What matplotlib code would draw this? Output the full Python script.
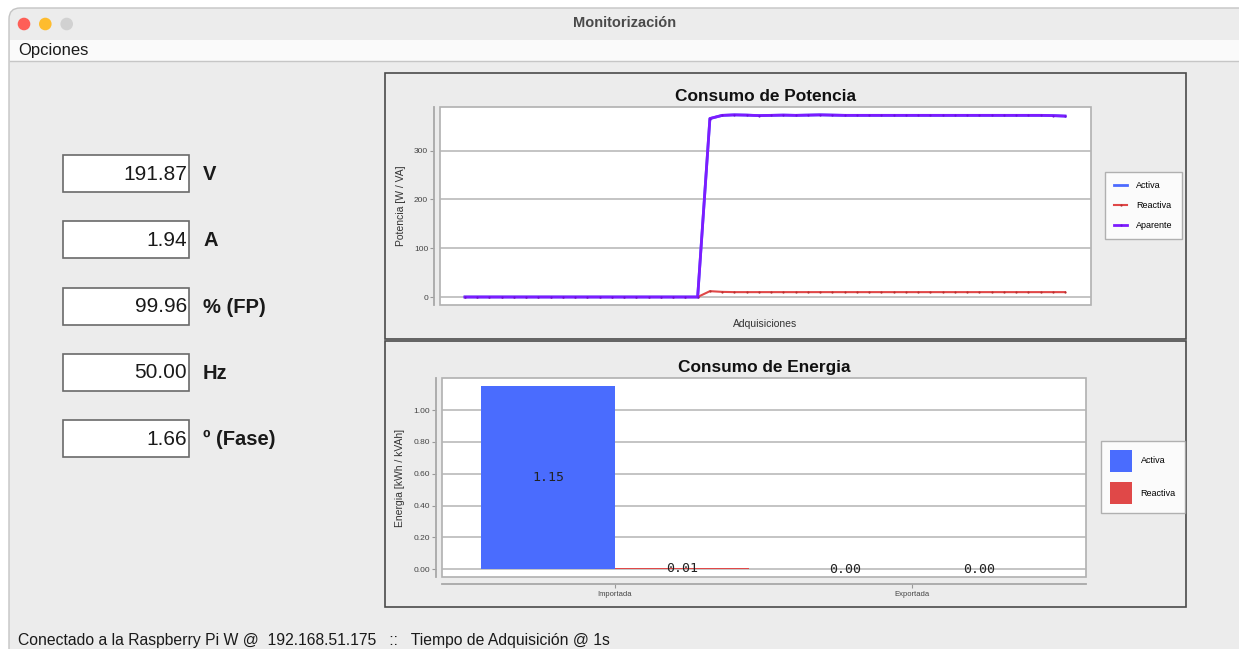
import matplotlib.pyplot as plt
from matplotlib.patches import Rectangle, FancyBboxPatch, Circle
import numpy as np

plt.rcParams['font.family'] = ['Liberation Sans', 'DejaVu Sans']

W, H = 1239, 649

# lecturas instantaneas (panel izquierdo)
valores = ['191.87', '1.94', '99.96', '50.00', '1.66']
unidades = ['V', 'A', '% (FP)', 'Hz', 'º (Fase)']

# potencia por adquisicion [W / VA]
activa = [0, 0, 0, 0, 0, 0, 0, 0, 0, 0, 0, 0, 0, 0, 0, 0, 0, 0, 0, 0,
          365.8, 372.3, 373.4, 372.9, 371.9, 372.4, 372.9, 372.4, 372.9, 373.4,
          372.9, 372.4, 372.4, 372.4, 372.4, 372.4, 372.4, 372.4, 372.4, 372.4,
          372.4, 372.4, 372.4, 372.4, 372.4, 372.4, 372.4, 372.4, 371.9, 370.9]
reactiva = [0, 0, 0, 0, 0, 0, 0, 0, 0, 0, 0, 0, 0, 0, 0, 0, 0, 0, 0, 0,
            12, 10.5, 10, 10, 10, 10, 10, 10, 10, 10,
            10, 10, 10, 10, 10, 10, 10, 10, 10, 10,
            10, 10, 10, 10, 10, 10, 10, 10, 10, 10]
aparente = [0, 0, 0, 0, 0, 0, 0, 0, 0, 0, 0, 0, 0, 0, 0, 0, 0, 0, 0, 0,
            366, 372.5, 373.5, 373, 372, 372.5, 373, 372.5, 373, 373.5,
            373, 372.5, 372.5, 372.5, 372.5, 372.5, 372.5, 372.5, 372.5, 372.5,
            372.5, 372.5, 372.5, 372.5, 372.5, 372.5, 372.5, 372.5, 372, 371]

# energia [kWh / kVAh]
categorias = ['Importada', 'Exportada']
energia_activa = [1.15, 0.00]
energia_reactiva = [0.01, 0.00]

AZUL = '#4a6cfe'
ROJO = '#e04848'
MORADO = '#7d1cff'


def rect(x0, y0, x1, y1):
    # caja en pixeles -> fraccion de figura
    return [x0 / W, 1 - y1 / H, (x1 - x0) / W, (y1 - y0) / H]


fig = plt.figure(figsize=(W / 100, H / 100), dpi=100, facecolor='white')

# fondo de la ventana
bg = fig.add_axes([0, 0, 1, 1])
bg.set_xlim(0, W)
bg.set_ylim(H, 0)
bg.axis('off')
bg.add_patch(FancyBboxPatch((9, 8), 1300, 700, boxstyle='round,pad=0,rounding_size=11',
                            fc='#ececec', ec='#c4c4c4', lw=1))
bg.add_patch(Rectangle((10, 40), 1300, 21, fc='#fafafa', ec='none'))
bg.plot([10, W], [61, 61], color='#c6c6c6', lw=1)
for cx, col in zip([24, 45.3, 66.7], ['#fe5f57', '#febc2e', '#d1d1d1']):
    bg.add_patch(Circle((cx, 24), 6.3, fc=col, ec='none'))
bg.text(625, 23, 'Monitorización', ha='center', va='center', fontsize=10.5,
        fontweight='bold', color='#4a4a4a')
bg.text(18, 51, 'Opciones', ha='left', va='center', fontsize=12, color='#1a1a1a')

# paneles de los graficos
bg.add_patch(Rectangle((385, 73), 801, 266, fill=False, ec='#4a4a4a', lw=1.2))
bg.add_patch(Rectangle((385, 341), 801, 266, fill=False, ec='#4a4a4a', lw=1.2))

# lecturas
for i, (val, uni) in enumerate(zip(valores, unidades)):
    y0 = 155 + i * 66.3
    bg.add_patch(Rectangle((63, y0), 126, 37, fc='white', ec='#6a6a6a', lw=1.2))
    bg.text(187, y0 + 19, val, ha='right', va='center', fontsize=15, color='#1a1a1a')
    bg.text(203, y0 + 19.5, uni, ha='left', va='center', fontsize=14.5,
            fontweight='bold', color='#1a1a1a')

bg.text(18, 640, 'Conectado a la Raspberry Pi W @  192.168.51.175   ::   Tiempo de Adquisición @ 1s',
        ha='left', va='center', fontsize=11.3, color='#1a1a1a')


def estilo(ax):
    ax.set_facecolor('white')
    ax.patch.set_edgecolor('#b0b0b0')
    ax.patch.set_linewidth(1.2)
    for s in ['top', 'right']:
        ax.spines[s].set_visible(False)
    ax.spines['left'].set_position(('outward', 4))
    ax.spines['left'].set_color('#a8a8a8')
    ax.spines['left'].set_linewidth(1.3)
    ax.grid(axis='y', color='#b4b4b4', lw=1.1)
    ax.set_axisbelow(True)
    ax.tick_params(axis='y', length=3, width=0.8, color='#999999', labelsize=6,
                   labelcolor='#444444', pad=1.5)


# Consumo de Potencia
ax1 = fig.add_axes(rect(440, 107, 1091, 305))
estilo(ax1)
ax1.spines['bottom'].set_visible(False)
x = np.arange(len(aparente))
ax1.plot(x, activa, color='#4d6bff', lw=2, label='Activa')
ax1.plot(x, reactiva, color=ROJO, lw=1.5, marker='o', ms=1.6, mfc='#b83030', mec='none',
         label='Reactiva')
ax1.plot(x, aparente, color=MORADO, lw=2, marker='o', ms=1.6, mfc='#6a10e0', mec='none',
         label='Aparente')
ax1.set_xlim(-2.04, 51.12)
ax1.set_ylim(-16.4, 389.6)
ax1.set_yticks([0, 100, 200, 300])
ax1.set_xticks([])
ax1.set_title('Consumo de Potencia', fontsize=12.4, fontweight='bold', pad=4, color='#111111')
ax1.set_xlabel('Adquisiciones', fontsize=7.5, color='#333333')
ax1.xaxis.set_label_coords(0.5, -(319 - 305) / 198)
ax1.set_ylabel('Potencia [W / VA]', fontsize=7.5, color='#333333')
ax1.yaxis.set_label_coords((406 - 440) / 651, 0.5)
leg1 = ax1.legend(loc='upper left', bbox_to_anchor=(1105 / W, 1 - 172 / H),
                  bbox_transform=fig.transFigure, fontsize=6.5, frameon=True, fancybox=False,
                  edgecolor='#a0a0a0', handlelength=1.45, handletextpad=1.0,
                  labelspacing=1.2, borderpad=1.0, borderaxespad=0)
leg1.get_frame().set_linewidth(1.0)

# Consumo de Energia
ax2 = fig.add_axes(rect(442, 378, 1086, 577))
estilo(ax2)
ax2.spines['bottom'].set_position(('outward', 5))
ax2.spines['bottom'].set_color('#a8a8a8')
ax2.spines['bottom'].set_linewidth(1.3)
xc = np.arange(len(categorias))
w = 0.45
b1 = ax2.bar(xc - w / 2, energia_activa, w, color=AZUL, lw=0, label='Activa')
b2 = ax2.bar(xc + w / 2, energia_reactiva, w, color=ROJO, lw=0, label='Reactiva')
for bars in (b1, b2):
    ax2.bar_label(bars, fmt='%.2f', label_type='center', fontsize=9.5,
                  family='DejaVu Sans Mono', color='#222222')
ax2.set_xlim(-0.5825, 1.586)
ax2.set_ylim(-0.048, 1.201)
ax2.set_yticks([0, 0.2, 0.4, 0.6, 0.8, 1.0])
ax2.set_yticklabels(['%.2f' % t for t in ax2.get_yticks()])
ax2.set_xticks(xc)
ax2.set_xticklabels(categorias)
ax2.tick_params(axis='x', length=3, width=0.8, color='#999999', labelsize=5.5,
                labelcolor='#444444', pad=2)
ax2.set_title('Consumo de Energia', fontsize=12.4, fontweight='bold', pad=4, color='#111111')
ax2.set_ylabel('Energia [kWh / kVAh]', fontsize=7.5, color='#333333')
ax2.yaxis.set_label_coords((405 - 442) / 644, 0.5)
leg2 = ax2.legend(loc='upper left', bbox_to_anchor=(1101 / W, 1 - 441 / H),
                  bbox_transform=fig.transFigure, fontsize=6.5, frameon=True, fancybox=False,
                  edgecolor='#a0a0a0', handlelength=2.4, handleheight=3.3, handletextpad=1.0,
                  labelspacing=1.2, borderpad=1.0, borderaxespad=0)
leg2.get_frame().set_linewidth(1.0)

fig.savefig('out.png', dpi=100)
